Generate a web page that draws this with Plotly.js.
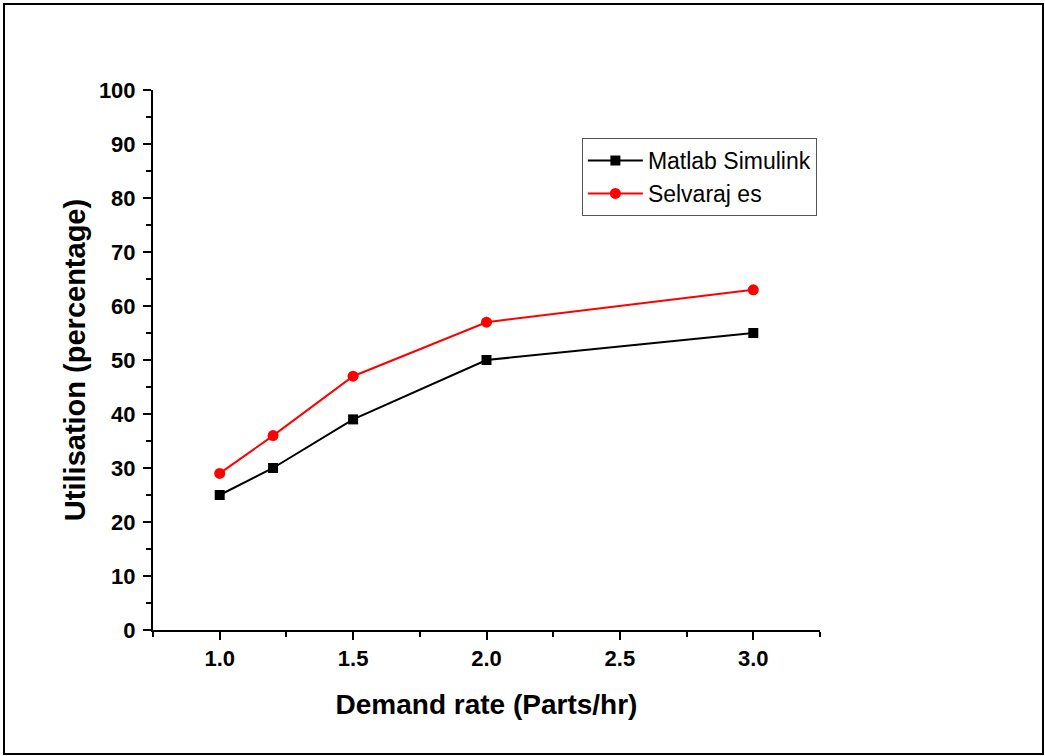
<!DOCTYPE html>
<html><head><meta charset="utf-8">
<script src="https://cdn.plot.ly/plotly-3.0.1.min.js"></script>
<style>
body{margin:0;padding:0;background:#fff;}
#wrap{position:relative;width:1045px;height:756px;}
#chart{width:1045px;height:756px;}
#frame{position:absolute;left:3px;top:3px;width:1037px;height:748px;border:2px solid #000;pointer-events:none;}
</style></head>
<body>
<div id="wrap"><div id="chart"></div><div id="frame"></div></div>
<script>
const demandRate = [1.0, 1.2, 1.5, 2.0, 3.0];
const matlabSimulink = [25, 30, 39, 50, 55];
const selvarajEs = [29, 36, 47, 57, 63];
const xTickVals = [1.0, 1.5, 2.0, 2.5, 3.0];
const xTickText = ['1.0', '1.5', '2.0', '2.5', '3.0'];

const traces = [
  {x: demandRate, y: matlabSimulink, name: 'Matlab Simulink', mode: 'lines+markers',
   line: {color: '#000', width: 2}, marker: {symbol: 'square', size: 10, color: '#000'}},
  {x: demandRate, y: selvarajEs, name: 'Selvaraj es', mode: 'lines+markers',
   line: {color: '#ff0000', width: 2}, marker: {symbol: 'circle', size: 11, color: '#ff0000'}}
];

const layout = {
  width: 1045, height: 756,
  margin: {l: 153, r: 225, t: 90, b: 126},
  paper_bgcolor: '#fff', plot_bgcolor: '#fff',
  font: {family: 'Liberation Sans, Arial, sans-serif', color: '#000'},
  showlegend: true,
  legend: {x: 0.643, y: 0.911, xanchor: 'left', yanchor: 'top',
    bordercolor: '#555', borderwidth: 1, bgcolor: '#fff',
    font: {size: 23, family: 'Liberation Sans, Arial, sans-serif'},
    tracegroupgap: 0, itemwidth: 55},
  xaxis: {
    range: [0.75, 3.25], showgrid: false, zeroline: false,
    showline: true, linecolor: '#000', linewidth: 2,
    ticks: 'outside', ticklen: 8, tickwidth: 2, tickcolor: '#000',
    tickvals: xTickVals, ticktext: xTickText, ticklabelstandoff: 0,
    tickfont: {size: 22, family: 'Liberation Sans, Arial, sans-serif', weight: 'bold'},
    minor: {dtick: 0.25, tick0: 0.75, ticks: 'outside', ticklen: 5, tickwidth: 2, tickcolor: '#000', showgrid: false},
    title: {text: '<b>Demand rate (Parts/hr)</b>', font: {size: 28}, standoff: 24}
  },
  yaxis: {
    range: [0, 100], showgrid: false, zeroline: false,
    showline: true, linecolor: '#000', linewidth: 2,
    ticks: 'outside', ticklen: 8, tickwidth: 2, tickcolor: '#000',
    dtick: 10, tick0: 0, ticklabelstandoff: 3,
    tickfont: {size: 22, family: 'Liberation Sans, Arial, sans-serif', weight: 'bold'},
    minor: {dtick: 5, tick0: 0, ticks: 'outside', ticklen: 5, tickwidth: 2, tickcolor: '#000', showgrid: false},
    title: {text: '<b>Utilisation (percentage)</b>', font: {size: 29}, standoff: 5}
  }
};
Plotly.newPlot('chart', traces, layout, {displayModeBar: false, staticPlot: true});
</script>
</body></html>
